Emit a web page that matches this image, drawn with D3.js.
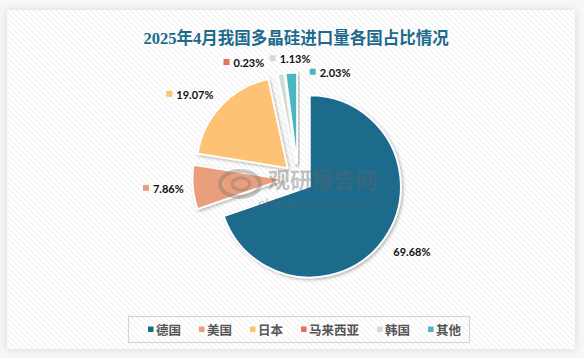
<!DOCTYPE html>
<html><head><meta charset="utf-8">
<script src="https://cdn.jsdelivr.net/npm/d3@7/dist/d3.min.js"></script>
<style>
html,body{margin:0;padding:0;background:#fff;}
svg{display:block;}
</style></head>
<body>
<svg id="chart" width="584" height="358"></svg>
<script>
// ---- data ----
const title = "2025年4月我国多晶硅进口量各国占比情况";
const categories = ["德国", "美国", "日本", "马来西亚", "韩国", "其他"];
const shares = [69.68, 7.86, 19.07, 0.23, 1.13, 2.03];
const colors = ["#1b6a8c", "#e99e7c", "#fec274", "#e6705f", "#d2dccf", "#4bb5c1"];

// ---- layout (not data) ----
const W = 584, H = 358;
const cx = 298, cy = 178, R = 91, explode = 14.5;
// label polar placement: [angle in degrees clockwise from top, distance from center]
const labelPolar = [[122.5, 135], [265.8, 135], [307.9, 137], [335, 128], [356.2, 120], [16.8, 111]];
const showMarker = [false, true, true, true, true, true];

const svg = d3.select("#chart");
const defs = svg.append("defs");

const pat = defs.append("pattern").attr("id", "hatch").attr("patternUnits", "userSpaceOnUse")
  .attr("width", 4).attr("height", 4).attr("patternTransform", "rotate(-45)");
pat.append("rect").attr("width", 4).attr("height", 4).attr("fill", "#ffffff");
pat.append("line").attr("x1", 0).attr("y1", 0).attr("x2", 0).attr("y2", 4)
  .attr("stroke", "#ececec").attr("stroke-width", 1.6);

const fPanel = defs.append("filter").attr("id", "panelShadow").attr("x", "-5%").attr("y", "-5%").attr("width", "110%").attr("height", "110%");
fPanel.append("feDropShadow").attr("dx", 0).attr("dy", 0).attr("stdDeviation", 4)
  .attr("flood-color", "#000").attr("flood-opacity", 0.12);

const fSlice = defs.append("filter").attr("id", "sliceShadow").attr("x", "-20%").attr("y", "-20%").attr("width", "140%").attr("height", "140%");
fSlice.append("feDropShadow").attr("dx", 1.5).attr("dy", 1.5).attr("stdDeviation", 1.8)
  .attr("flood-color", "#000").attr("flood-opacity", 0.28);

// background
svg.append("rect").attr("width", W).attr("height", H).attr("fill", "#f7f7f7");
svg.append("rect").attr("x", 7).attr("y", 10).attr("width", 568).attr("height", 339)
  .attr("fill", "#fff").attr("filter", "url(#panelShadow)");
svg.append("rect").attr("x", 7).attr("y", 10).attr("width", 568).attr("height", 339)
  .attr("fill", "url(#hatch)");

// title
svg.append("text").attr("x", 296).attr("y", 44).attr("text-anchor", "middle")
  .attr("font-family", "'Liberation Serif', 'Noto Sans CJK SC', serif")
  .attr("font-weight", "bold").attr("font-size", 16.5).attr("fill", "#1d6a8c")
  .text(title);

// pie
const data = categories.map((c, i) => ({ name: c, value: shares[i], color: colors[i], i }));
const pie = d3.pie().value(d => d.value).sort(null);
const arcs = pie(data);
const arc = d3.arc().innerRadius(0).outerRadius(R);

const pieG = svg.append("g").attr("transform", `translate(${cx},${cy})`);
pieG.selectAll("path").data(arcs).join("path")
  .attr("d", arc)
  .attr("transform", d => {
    const a = (d.startAngle + d.endAngle) / 2;
    return `translate(${explode * Math.sin(a)},${-explode * Math.cos(a)})`;
  })
  .attr("fill", d => d.data.color)
  .attr("stroke", "#fff").attr("stroke-width", 1.8)
  .attr("stroke-linejoin", "round")
  .attr("filter", "url(#sliceShadow)");

// watermark
const wm = svg.append("g").attr("opacity", 0.38);
wm.append("ellipse").attr("cx", 240).attr("cy", 184).attr("rx", 20).attr("ry", 13)
  .attr("fill", "none").attr("stroke", "#777").attr("stroke-width", 4);
wm.append("ellipse").attr("cx", 241).attr("cy", 184).attr("rx", 9).attr("ry", 6)
  .attr("fill", "none").attr("stroke", "#777").attr("stroke-width", 3);
wm.append("text").attr("x", 268).attr("y", 188).attr("font-family", "'Noto Sans CJK SC', sans-serif")
  .attr("font-weight", "bold").attr("font-size", 22).attr("fill", "#666").text("观研报告网");
wm.append("text").attr("x", 258).attr("y", 208).attr("font-family", "'DejaVu Sans', sans-serif")
  .attr("font-size", 12.5).attr("fill", "#666").attr("letter-spacing", 0.3).text("chinabaogao.com");

// labels
const labG = svg.append("g");
arcs.forEach((d, i) => {
  const [angDeg, dist] = labelPolar[i];
  const a = angDeg * Math.PI / 180;
  const x = cx + dist * Math.sin(a), y = cy - dist * Math.cos(a);
  const g = labG.append("g");
  const t = g.append("text").attr("font-family", "Lato, 'Liberation Sans', sans-serif")
    .attr("font-weight", "bold").attr("font-size", 11).attr("fill", "#111")
    .attr("dominant-baseline", "central")
    .text(d.data.value.toFixed(2) + "%");
  const tw = t.node().getComputedTextLength();
  const mw = showMarker[i] ? 10 : 0;
  const total = mw + tw;
  const x0 = x - total / 2;
  if (showMarker[i]) {
    g.append("rect").attr("x", x0).attr("y", y - 3).attr("width", 6).attr("height", 6)
      .attr("fill", d.data.color);
  }
  t.attr("x", x0 + mw).attr("y", y + 0.5);
});

// legend
const lg = svg.append("g");
lg.append("rect").attr("x", 128.5).attr("y", 316.5).attr("width", 341).attr("height", 26)
  .attr("fill", "none").attr("stroke", "#d6d6d6").attr("stroke-width", 1.2);
let lx = 148;
const ly = 329.5;
categories.forEach((c, i) => {
  lg.append("rect").attr("x", lx).attr("y", ly - 3).attr("width", 5.5).attr("height", 5.5).attr("fill", colors[i]);
  const t = lg.append("text").attr("x", lx + 8).attr("y", ly).attr("dominant-baseline", "central")
    .attr("font-family", "'Noto Sans CJK SC', sans-serif").attr("font-weight", "bold")
    .attr("font-size", 12.5).attr("fill", "#555").text(c);
  lx += 8 + t.node().getComputedTextLength() + 18;
});
</script>
</body></html>
